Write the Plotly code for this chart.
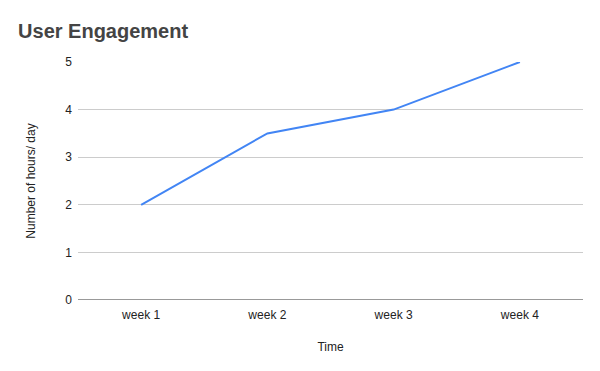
import plotly.graph_objects as go

categories = ["week 1", "week 2", "week 3", "week 4"]
hours = [2, 3.5, 4, 5]
y_ticks = [0, 1, 2, 3, 4, 5]

fig = go.Figure()
fig.add_trace(go.Scatter(x=categories, y=hours, mode="lines",
                         line=dict(color="#4285F4", width=2)))

fig.update_layout(
    width=592, height=363,
    margin=dict(l=70, r=17, t=54, b=71),
    paper_bgcolor="white", plot_bgcolor="white",
    font=dict(family="Liberation Sans, Arial, sans-serif", color="#222222", size=12),
    title=dict(text="<b>User Engagement</b>", x=0.017, xanchor="left",
               y=0.937, yanchor="middle",
               font=dict(size=20, color="#444444", family="Liberation Sans, Arial, sans-serif")),
    showlegend=False,
    xaxis=dict(title=dict(text="Time", font=dict(size=12), standoff=21),
               showgrid=False, ticks="", range=[-0.5, 3.5],
               showline=False, zeroline=False, ticklabelstandoff=6),
    yaxis=dict(title=dict(text="Number of hours/ day", font=dict(size=12), standoff=27),
               range=[0, 5], tickvals=y_ticks, gridcolor="#cccccc", gridwidth=1,
               zeroline=False, showline=False, ticks="", ticklabelstandoff=5),
)
fig.add_hline(y=0, line=dict(color="#333333", width=1))

fig.write_html("out.html")
